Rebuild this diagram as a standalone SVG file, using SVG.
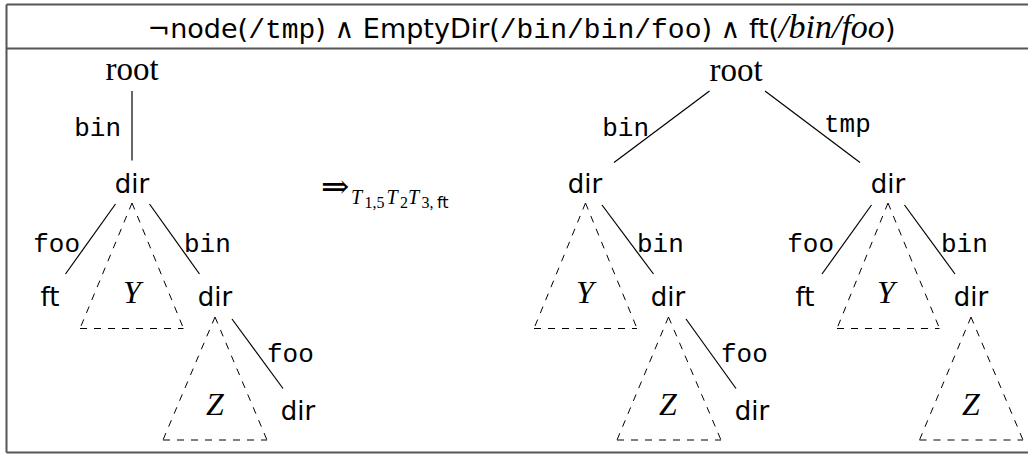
<svg xmlns="http://www.w3.org/2000/svg" width="1028" height="454" viewBox="0 0 1028 454">
<style>
.serif{font-family:"Liberation Serif",serif;font-size:33px}
.sans{font-family:"DejaVu Sans",sans-serif;font-size:26px}
.mono{font-family:"Liberation Mono",monospace;font-size:26px}
.it{font-family:"Liberation Serif",serif;font-style:italic;font-size:32px}
.hs{font-family:"DejaVu Sans",sans-serif;font-size:27px}
.hm{font-family:"Liberation Mono",monospace;font-size:28px}
.hi{font-family:"Liberation Serif",serif;font-style:italic;font-size:34px}
.hw{font-family:"DejaVu Serif",serif;font-size:27px;font-weight:normal}
.m{text-anchor:middle}
.e{text-anchor:end}
.edge{stroke:#000;stroke-width:1.2;fill:none}
.tri{stroke:#000;stroke-width:1;stroke-dasharray:7 7;fill:none}
.frame{stroke:#555;stroke-width:2;fill:none}
</style>
<rect width="1028" height="454" fill="#fff"/>
<g id="frame">
<line class="frame" x1="6.5" y1="4.5" x2="1028" y2="4.5"/>
<line class="frame" x1="6.5" y1="48.5" x2="1028" y2="48.5"/>
<line class="frame" x1="6.5" y1="452.5" x2="1028" y2="452.5"/>
<line class="frame" x1="6.5" y1="4.5" x2="6.5" y2="452.5"/>
</g>
<g id="header">
<text x="521.5" y="38" class="hs m"><tspan>¬node(</tspan><tspan class="hm">/tmp</tspan><tspan>) </tspan><tspan class="hw">∧</tspan><tspan> EmptyDir(</tspan><tspan class="hm">/bin/bin/foo</tspan><tspan>) </tspan><tspan class="hw">∧</tspan><tspan> ft(</tspan><tspan class="hi">/bin/foo</tspan><tspan>)</tspan></text>
</g>
<g id="connectors">
<line class="edge" x1="132" y1="91" x2="132" y2="160.5"/>
<line class="edge" x1="115.5" y1="204" x2="65.5" y2="274"/>
<line class="edge" x1="149.5" y1="204" x2="199.5" y2="274"/>
<line class="edge" x1="232" y1="319" x2="283" y2="388.5"/>
<line class="edge" x1="709.5" y1="91" x2="614" y2="162.5"/>
<line class="edge" x1="765" y1="91" x2="860" y2="162.5"/>
<line class="edge" x1="602" y1="205" x2="653.5" y2="274"/>
<line class="edge" x1="686" y1="319" x2="736" y2="388.5"/>
<line class="edge" x1="871.5" y1="205" x2="822" y2="274"/>
<line class="edge" x1="904.5" y1="205" x2="955" y2="274"/>
<text x="121" y="136" class="mono e">bin</text>
<text x="80" y="252" class="mono e">foo</text>
<text x="184" y="252" class="mono">bin</text>
<text x="267" y="362" class="mono">foo</text>
<text x="649" y="136" class="mono e">bin</text>
<text x="824" y="132" class="mono">tmp</text>
<text x="637" y="252" class="mono">bin</text>
<text x="721" y="362" class="mono">foo</text>
<text x="834" y="252" class="mono e">foo</text>
<text x="941" y="252" class="mono">bin</text>
</g>
<g id="L_root"><text x="132" y="80" class="serif m">root</text></g>
<g id="L_dir1"><text x="132" y="193" class="sans m">dir</text></g>
<g id="L_ft"><text x="50" y="306" class="sans m">ft</text></g>
<g id="L_Y"><path class="tri" d="M132 203 L80 328.5 M132 203 L183.5 328.5 M80 328.5 L183.5 328.5"/><text x="132" y="303" class="it m">Y</text></g>
<g id="L_dir2"><text x="215" y="306" class="sans m">dir</text></g>
<g id="L_Z"><path class="tri" d="M215 317 L163 440 M215 317 L267 440 M163 440 L267 440"/><text x="215" y="415" class="it m">Z</text></g>
<g id="L_dir3"><text x="298" y="420" class="sans m">dir</text></g>
<g id="arrow">
<text x="321" y="198" style="font-family:'DejaVu Serif',serif;font-size:34px">⇒</text>
<text y="203.5" style="font-family:'Liberation Serif',serif;font-size:20px"><tspan x="351" font-style="italic">T</tspan><tspan x="364.5" y="207.5" font-size="16">1,5</tspan><tspan x="386.5" y="203.5" font-style="italic">T</tspan><tspan x="400" y="207.5" font-size="16">2</tspan><tspan x="408" y="203.5" font-style="italic">T</tspan><tspan x="421.5" y="207.5" font-size="16">3,</tspan><tspan x="437" style="font-family:'DejaVu Sans',sans-serif;font-size:16px">ft</tspan></text>
</g>
<g id="R_root"><text x="736" y="80.5" class="serif m">root</text></g>
<g id="R_dirL"><text x="585" y="193" class="sans m">dir</text></g>
<g id="R_dirR"><text x="888" y="193" class="sans m">dir</text></g>
<g id="R_Y1"><path class="tri" d="M585.5 203 L534 328.5 M585.5 203 L637 328.5 M534 328.5 L637 328.5"/><text x="585" y="303" class="it m">Y</text></g>
<g id="R_dir2"><text x="668" y="306" class="sans m">dir</text></g>
<g id="R_Z1"><path class="tri" d="M668.5 317 L617 440 M668.5 317 L721 440 M617 440 L721 440"/><text x="668" y="415" class="it m">Z</text></g>
<g id="R_dir3"><text x="752" y="420" class="sans m">dir</text></g>
<g id="R_ft"><text x="805" y="306" class="sans m">ft</text></g>
<g id="R_Y2"><path class="tri" d="M888 203 L837 328.5 M888 203 L939.5 328.5 M837 328.5 L939.5 328.5"/><text x="886" y="303" class="it m">Y</text></g>
<g id="R_dir4"><text x="971" y="306" class="sans m">dir</text></g>
<g id="R_Z2"><path class="tri" d="M971 317 L919.5 440 M971 317 L1023 440 M919.5 440 L1023 440"/><text x="971" y="415" class="it m">Z</text></g>
</svg>
